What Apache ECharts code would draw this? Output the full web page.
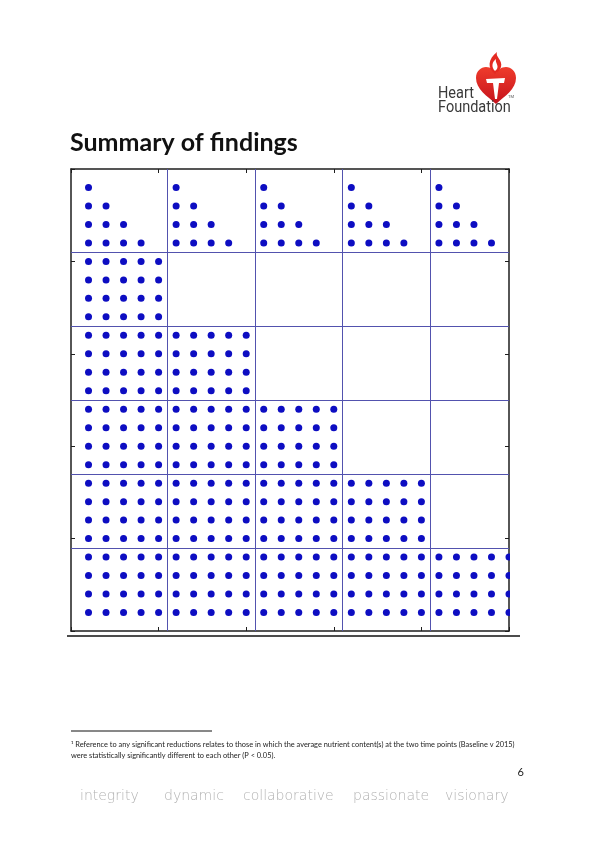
<!DOCTYPE html>
<html>
<head>
<meta charset="utf-8">
<script src="https://cdn.jsdelivr.net/npm/echarts@6/dist/echarts.min.js"></script>
<style>
html,body{margin:0;padding:0;background:#ffffff;}
#c{width:596px;height:842px;}
</style>
</head>
<body>
<div id="c"></div>
<script>
// ---- data (top row = y 24, first char = x 1) ----
const dotRows = [
  "1....1....1....1....1....",
  "11...11...11...11...11...",
  "111..111..111..111..111..",
  "1111.1111.1111.1111.1111.",
  "11111....................",
  "11111....................",
  "11111....................",
  "11111....................",
  "1111111111...............",
  "1111111111...............",
  "1111111111...............",
  "1111111111...............",
  "111111111111111..........",
  "111111111111111..........",
  "111111111111111..........",
  "111111111111111..........",
  "11111111111111111111.....",
  "11111111111111111111.....",
  "11111111111111111111.....",
  "11111111111111111111.....",
  "1111111111111111111111111",
  "1111111111111111111111111",
  "1111111111111111111111111",
  "1111111111111111111111111"
];
const blockEdgesX = [5.5, 10.5, 15.5, 20.5];
const blockEdgesY = [4.5, 8.5, 12.5, 16.5, 20.5];
const axisMin = 0;
const axisMax = 25;
const tickStep = 5;

const titleText = "Summary of findings";
const footnoteLines = [
  "\u00b9 Reference to any significant reductions relates to those in which the average nutrient content(s) at the two time points (Baseline v 2015)",
  "were statistically significantly different to each other (P < 0.05)."
];
const pageNumber = "6";
const footerWords = ["integrity", "dynamic", "collaborative", "passionate", "visionary"];

// ---- build points ----
const points = [];
dotRows.forEach(function (row, i) {
  const y = dotRows.length - i;
  for (let j = 0; j < row.length; j++) {
    if (row[j] === "1") points.push([j + 1, y]);
  }
});

// ---- logo shapes ----
echarts.graphic.registerShape("hfHeart", echarts.graphic.extendPath(
  "M 476 78 C 476 71, 481 67, 486 67 C 491 67, 494 70, 496 73 C 498 70, 501 67, 506 67 C 511 67, 516 71, 516 78 C 516 89, 505 96, 496 104 C 487 96, 476 89, 476 78 Z", {}));
echarts.graphic.registerShape("hfFlame", echarts.graphic.extendPath(
  "M 495 74 C 487 68, 488 59, 497 52 C 495 57, 503 60, 501 67 C 500 70, 498 72, 495 74 Z", {}));
echarts.graphic.registerShape("hfFlameIn", echarts.graphic.extendPath(
  "M 495 71 C 491 67, 492 62, 496 59 C 495 63, 499 65, 497 69 Z", {}));
echarts.graphic.registerShape("hfTorch", echarts.graphic.extendPath(
  "M 486 79 L 505 78 L 504 83 L 499 83 L 497 99 L 495 99 L 493 83 L 487 83 Z", {}));

const frameColor = "#1e1e1e";
function mkAxis(pos) {
  return {
    type: "value", position: pos, min: axisMin, max: axisMax, interval: tickStep,
    axisLine: { show: true, onZero: false, lineStyle: { color: frameColor, width: 1.5 } },
    axisTick: { show: true, inside: true, length: 4, lineStyle: { color: frameColor, width: 1 } },
    axisLabel: { show: false },
    splitLine: { show: false }
  };
}

const footerX = [80, 164, 243, 353, 445];

const chart = echarts.init(document.getElementById("c"), null, { renderer: "canvas" });
chart.setOption({
  animation: false,
  backgroundColor: "#ffffff",
  grid: { left: 71, top: 169, width: 438, height: 462, containLabel: false },
  xAxis: [mkAxis("bottom"), mkAxis("top")],
  yAxis: [mkAxis("left"), mkAxis("right")],
  series: [{
    type: "scatter",
    xAxisIndex: 0, yAxisIndex: 0,
    data: points,
    symbol: "circle",
    symbolSize: 7,
    clip: false,
    itemStyle: { color: "#0d0dc2", opacity: 1 },
    z: 5,
    markLine: {
      silent: true,
      symbol: ["none", "none"],
      label: { show: false },
      lineStyle: { color: "#5252ae", width: 1, type: "solid", opacity: 1 },
      emphasis: { disabled: true },
      data: blockEdgesX.map(function (v) { return { xAxis: v }; })
        .concat(blockEdgesY.map(function (v) { return { yAxis: v }; }))
    }
  }],
  graphic: [
    { type: "rect", z: 100, silent: true, shape: { x: 510, y: 160, width: 14, height: 474 }, style: { fill: "#ffffff" } },
    { type: "line", z: 101, silent: true, shape: { x1: 67, y1: 636, x2: 520, y2: 636 }, style: { stroke: "#111", lineWidth: 1.3 } },
    { type: "text", z: 101, x: 70, y: 142.5, style: { text: titleText, font: "bold 25px Lato, 'Open Sans', sans-serif", fill: "#111", align: "left", verticalAlign: "middle" } },
    { type: "hfHeart", z: 101, silent: true,
      style: { fill: new echarts.graphic.LinearGradient(0, 0, 0, 1, [{ offset: 0, color: "#ef3c2c" }, { offset: 1, color: "#c5121c" }]) } },
    { type: "hfFlame", z: 102, silent: true, style: { fill: "#e42a22" } },
    { type: "hfFlameIn", z: 103, silent: true, style: { fill: "#ffffff" } },
    { type: "hfTorch", z: 103, silent: true, style: { fill: "#ffffff" } },
    { type: "text", z: 104, x: 438, y: 93.5, scaleX: 0.88, style: { text: "Heart", font: "16.5px Roboto, sans-serif", fill: "#3a3a3a", align: "left", verticalAlign: "middle" } },
    { type: "text", z: 104, x: 438, y: 108, scaleX: 0.88, style: { text: "Foundation", font: "16.5px Roboto, sans-serif", fill: "#3a3a3a", align: "left", verticalAlign: "middle" } },
    { type: "text", z: 104, x: 508, y: 97, style: { text: "TM", font: "4px Roboto, sans-serif", fill: "#555", align: "left", verticalAlign: "middle" } },
    { type: "line", z: 101, silent: true, shape: { x1: 71, y1: 731, x2: 212, y2: 731 }, style: { stroke: "#111", lineWidth: 1 } },
    { type: "text", z: 101, x: 71, y: 745, style: { text: footnoteLines[0], font: "7.4px Lato, 'Open Sans', sans-serif", fill: "#222", align: "left", verticalAlign: "middle" } },
    { type: "text", z: 101, x: 71, y: 755.5, style: { text: footnoteLines[1], font: "7.4px Lato, 'Open Sans', sans-serif", fill: "#222", align: "left", verticalAlign: "middle" } },
    { type: "text", z: 101, x: 524, y: 772, style: { text: pageNumber, font: "11px Lato, sans-serif", fill: "#222", align: "right", verticalAlign: "middle" } }
  ].concat(footerWords.map(function (w, i) {
    return { type: "text", z: 101, x: footerX[i], y: 796, style: { text: w, font: "200 14px 'DejaVu Sans', sans-serif", fill: "#b3b3b3", align: "left", verticalAlign: "middle" } };
  }))
});
</script>
</body>
</html>
